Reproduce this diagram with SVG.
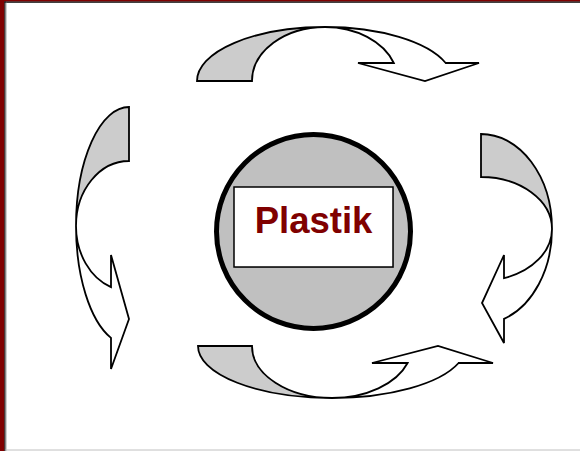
<svg xmlns="http://www.w3.org/2000/svg" width="580" height="451" viewBox="0 0 580 451">
  <style>
    .band { fill: #cccccc; stroke: #000000; stroke-width: 1.8; stroke-linejoin: miter; }
    .front { fill: #ffffff; stroke: #000000; stroke-width: 1.8; stroke-linejoin: miter; }
    .label { font-family: "Liberation Sans", Arial, sans-serif; font-weight: bold; font-size: 36.5px; fill: #800000; }
  </style>
  <rect x="0" y="0" width="580" height="451" fill="#ffffff"/>
  <g id="frame">
    <rect x="0" y="0" width="4.5" height="451" fill="#800000"/>
    <rect x="0" y="0" width="580" height="1.6" fill="#800000"/>
    <line x1="5" y1="1.5" x2="5" y2="451" stroke="#000000" stroke-width="1.2"/>
    <line x1="4.5" y1="2.1" x2="580" y2="2.1" stroke="#000000" stroke-width="1.2"/>
    <line x1="6" y1="2.6" x2="6" y2="451" stroke="#a0a0a0" stroke-width="1"/>
    <line x1="5.5" y1="450" x2="580" y2="450" stroke="#c0c0c0" stroke-width="1"/>
  </g>
  <g id="connectors">
    <g id="arrow-top">
      <path class="band" d="M 197,81 A 128 54 0 0 1 325,27 A 73 54 0 0 0 252,81 Z"/>
      <path class="front" d="M 325,27 A 128 54 0 0 1 445.7,63 L 479,63 L 425,81 L 358,63 L 393.8,63 A 73 54 0 0 0 325,27 Z"/>
    </g>
    <g id="arrow-right">
      <path class="band" d="M 481,134 A 71 95 0 0 1 552,229 A 71 52 0 0 0 481,177 Z"/>
      <path class="front" d="M 552,229 A 71 95 0 0 1 504,318.9 L 504,343 L 482,303 L 504,255 L 504,278.2 A 71 52 0 0 0 552,229 Z"/>
    </g>
    <g id="arrow-bottom">
      <path class="band" d="M 198,346 A 134 52 0 0 0 332,398 A 80 52 0 0 1 252,346 Z"/>
      <path class="front" d="M 332,398 A 134 52 0 0 0 458.6,363 L 493,363 L 438,346 L 372,363 L 407.6,363 A 80 52 0 0 1 332,398 Z"/>
    </g>
    <g id="arrow-left">
      <path class="band" d="M 129,107 A 53 119 0 0 0 76,226 A 53 65 0 0 1 129,161 Z"/>
      <path class="front" d="M 76,226 A 53 119 0 0 0 111,337.9 L 111,369 L 129,319 L 111,255 L 111,287.1 A 53 65 0 0 1 76,226 Z"/>
    </g>
  </g>
  <g id="plastik">
    <circle cx="313.5" cy="231.5" r="97" fill="#c0c0c0" stroke="#000000" stroke-width="5"/>
    <rect x="235" y="188" width="159" height="80" fill="#9a9a9a"/>
    <rect x="234" y="187" width="159" height="80" fill="#ffffff" stroke="#000000" stroke-width="1.5"/>
    <text class="label" x="313.5" y="233" text-anchor="middle">Plastik</text>
  </g>
</svg>
